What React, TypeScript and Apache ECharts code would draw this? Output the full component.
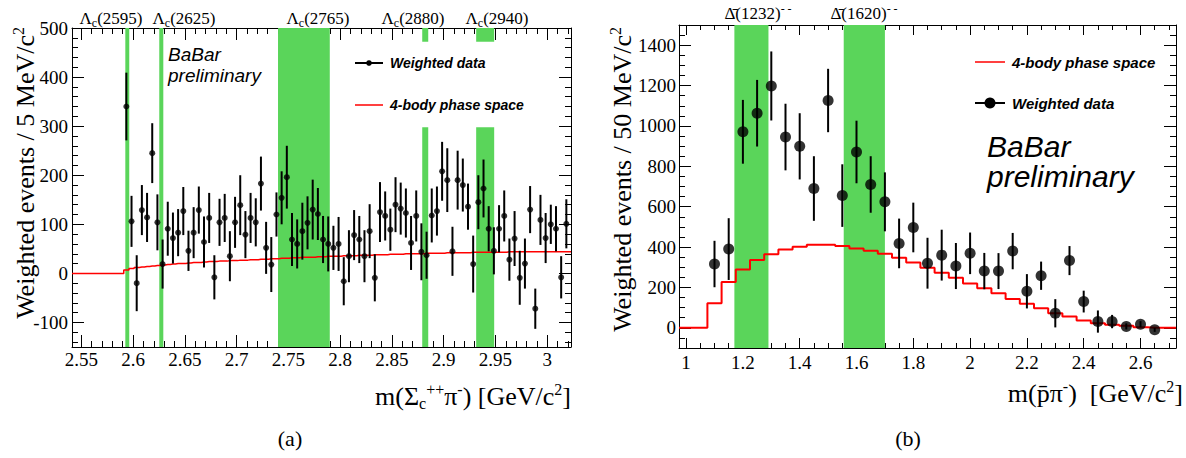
import React, { useEffect, useRef } from 'react';
import * as echarts from 'echarts';

const SERIF = '"Liberation Serif", "Times New Roman", serif';
const SANS = '"Liberation Sans", Arial, Helvetica, sans-serif';
const GREEN = '#5AD55A';
const RED = '#FF0000';

// ---------------- Panel (a): m(Sigma_c++ pi-) ----------------
const A_X_RANGE = [2.541, 3.023];
const A_Y_RANGE = [-150, 500];
const A_BIN_WIDTH = 0.005;
const A_FIRST_BIN = 2.5935;
const A_VALUES = [
  340, 106, -20, 129, 114, 245, 104, 19, 91, 72,
  83, 127, 46, 83, 129, 64, 113, -8, 104, 113,
  35, 104, 139, 79, 113, 104, 183, 52, 18, 120,
  154, 196, 69, 60, 86, 103, 130, 121, 69, 60,
  52, 60, -16, 35, 78, 69, 35, 86, -9, 125,
  117, 89, 140, 132, 123, 62, 117, 44, 37, 118,
  127, 208, 190, 45, 190, 180, 136, 19, 145, 173,
  91, 46, 91, 117, 28, 71, -9, 20, 130, -72,
  109, 72, 100, 91, -8, 101,
];
const A_ERRORS = [
  69, 52, 57, 51, 50, 61, 57, 50, 55, 52,
  48, 49, 41, 52, 48, 52, 51, 45, 48, 49,
  51, 52, 61, 48, 51, 49, 55, 53, 56, 45,
  54, 64, 54, 50, 58, 54, 61, 53, 48, 56,
  45, 55, 49, 53, 51, 48, 53, 55, 48, 61,
  50, 43, 56, 53, 50, 55, 52, 58, 48, 55,
  50, 60, 65, 50, 60, 54, 47, 58, 55, 59,
  46, 48, 48, 52, 43, 56, 55, 51, 48, 41,
  51, 51, 40, 46, 43, 50,
];
const A_PHASE_SPACE = [
  7, 10, 12, 13, 14, 15, 16, 17, 18, 19,
  20, 20, 21, 22, 22, 23, 24, 24, 25, 25,
  26, 26, 27, 27, 28, 28, 29, 29, 30, 30,
  31, 31, 32, 32, 33, 33, 33, 34, 34, 35,
  35, 35, 36, 36, 36, 37, 37, 37, 38, 38,
  38, 39, 39, 39, 40, 40, 40, 40, 41, 41,
  41, 41, 42, 42, 42, 42, 42, 43, 43, 43,
  43, 43, 43, 43, 44, 44, 44, 44, 44, 44,
  44, 44, 44, 44, 44, 44,
];
const A_X_TICKS = [2.55, 2.6, 2.65, 2.7, 2.75, 2.8, 2.85, 2.9, 2.95, 3.0];
const A_Y_TICKS = [-100, 0, 100, 200, 300, 400, 500];
const A_STATES = ['2595', '2625', '2765', '2880', '2940'];
const A_STATE_BANDS = [
  [2.5925, 2.5963],
  [2.6253, 2.6292],
  [2.74, 2.79],
  [2.8793, 2.8851],
  [2.9314, 2.9488],
];

// ---------------- Panel (b): m(pbar pi-) ----------------
const B_X_RANGE = [0.975, 2.725];
const B_Y_RANGE = [-100, 1500];
const B_BIN_WIDTH = 0.05;
const B_FIRST_BIN = 1.1;
const B_VALUES = [
  316, 390, 971, 1063, 1198, 945, 899, 690, 1126, 655,
  871, 710, 624, 418, 497, 320, 360, 306, 369, 281,
  281, 380, 181, 258, 72, 333, 130, 31, 31, 7,
  18, -10,
];
const B_ERRORS = [
  115, 153, 158, 165, 171, 165, 164, 160, 157, 155,
  155, 140, 146, 123, 123, 126, 126, 114, 103, 90,
  89, 90, 85, 70, 70, 72, 54, 55, 33, 15,
  15, 10,
];
const B_PS_FIRST_BIN = 1.0;
const B_PHASE_SPACE = [
  0, 0, 122, 227, 289, 336, 365, 388, 402, 412,
  411, 405, 393, 382, 367, 347, 323, 298, 273, 248,
  220, 196, 171, 143, 119, 97, 72, 56, 36, 23,
  15, 10, 3, 0, 0,
];
const B_X_TICKS = [1, 1.2, 1.4, 1.6, 1.8, 2, 2.2, 2.4, 2.6];
const B_Y_TICKS = [0, 200, 400, 600, 800, 1000, 1200, 1400];
const B_STATES = ['1232', '1620'];
const B_STATE_BANDS = [
  [1.17, 1.29],
  [1.555, 1.7],
];

// layout constants (legend box of panel a interrupts bands, in data units)
const A_LEGEND_GAP = [298, 472];
const A_LEGEND_FROM_X = 2.8;

function steps(from: number, to: number, step: number) {
  const out: number[] = [];
  const n = Math.round((to - from) / step);
  for (let i = 0; i <= n; i++) out.push(Math.round((from + i * step) * 1e6) / 1e6);
  return out;
}

const fmt = (v: number) => String(parseFloat(Number(v).toFixed(3)));

function axisSet(kind: 'x' | 'y', gridIndex: number, range: number[], majors: number[], minors: number[], margin: number, majorLen: number, minorLen: number) {
  const sides = kind === 'x' ? ['bottom', 'top'] : ['left', 'right'];
  const base = {
    type: 'value',
    gridIndex,
    min: range[0],
    max: range[1],
    splitLine: { show: false },
    axisPointer: { show: false },
  };
  const line = { show: true, onZero: false, lineStyle: { color: '#000', width: 1 } };
  const noLine = { show: false, onZero: false };
  const majorTick = { show: true, inside: true, length: majorLen, customValues: majors, lineStyle: { color: '#000', width: 1 } };
  const minorTick = { show: true, inside: true, length: minorLen, customValues: minors, lineStyle: { color: '#000', width: 1 } };
  return [
    {
      ...base,
      position: sides[0],
      axisLine: line,
      axisTick: majorTick,
      axisLabel: {
        show: true,
        customValues: majors,
        formatter: fmt,
        margin,
        color: '#000',
        fontFamily: SERIF,
        fontSize: 19,
        hideOverlap: false,
      },
    },
    { ...base, position: sides[0], axisLine: noLine, axisTick: minorTick, axisLabel: { show: false } },
    { ...base, position: sides[1], axisLine: line, axisTick: majorTick, axisLabel: { show: false } },
    { ...base, position: sides[1], axisLine: noLine, axisTick: minorTick, axisLabel: { show: false } },
  ];
}

const bandRender = (params: any, api: any) => {
  const lo = api.value(0);
  const hi = api.value(1);
  const ylo = api.value(2);
  const yhi = api.value(3);
  const p1 = api.coord([lo, yhi]);
  const p2 = api.coord([hi, ylo]);
  return {
    type: 'rect',
    shape: { x: p1[0], y: p1[1], width: p2[0] - p1[0], height: p2[1] - p1[1] },
    style: { fill: GREEN },
  };
};

const errRender = (width: number) => (params: any, api: any) => {
  const x = api.value(0);
  const v = api.value(1);
  const e = api.value(2);
  const p1 = api.coord([x, v + e]);
  const p2 = api.coord([x, v - e]);
  return {
    type: 'line',
    shape: { x1: p1[0], y1: p1[1], x2: p2[0], y2: p2[1] },
    style: { stroke: '#000', lineWidth: width },
  };
};

const titleRich = {
  n: { fontFamily: SERIF, fontSize: 26, lineHeight: 30, fill: '#000' },
  sp: { fontFamily: SERIF, fontSize: 16, verticalAlign: 'top', fill: '#000' },
  sb: { fontFamily: SERIF, fontSize: 16, verticalAlign: 'bottom', fill: '#000' },
};

const labelRich = {
  n: { fontFamily: SERIF, fontSize: 17, lineHeight: 21, fill: '#000' },
  s: { fontFamily: SERIF, fontSize: 12, verticalAlign: 'bottom', fill: '#000' },
  sp: { fontFamily: SERIF, fontSize: 12, verticalAlign: 'top', fill: '#000' },
};

export default function App() {
  const ref = useRef<HTMLDivElement>(null);

  useEffect(() => {
    document.body.style.margin = '0';
    if (!ref.current) return;
    const chart = echarts.init(ref.current, undefined, { renderer: 'svg' });

    const aCenters = A_VALUES.map((_, i) => A_FIRST_BIN + i * A_BIN_WIDTH);
    const bCenters = B_VALUES.map((_, i) => B_FIRST_BIN + i * B_BIN_WIDTH);
    const bPsCenters = B_PHASE_SPACE.map((_, i) => B_PS_FIRST_BIN + i * B_BIN_WIDTH);

    const aRed = [
      [A_X_RANGE[0], 0],
      [A_FIRST_BIN - A_BIN_WIDTH, 0],
      ...aCenters.map((c, i) => [c, A_PHASE_SPACE[i]]),
      [A_X_RANGE[1], A_PHASE_SPACE[A_PHASE_SPACE.length - 1]],
    ];
    const bRed = [
      [B_X_RANGE[0], 0],
      ...bPsCenters.map((c, i) => [c, B_PHASE_SPACE[i]]),
      [B_X_RANGE[1], B_PHASE_SPACE[B_PHASE_SPACE.length - 1]],
    ];

    const aBands: number[][] = [];
    A_STATE_BANDS.forEach(([lo, hi]) => {
      if (lo > A_LEGEND_FROM_X) {
        aBands.push([lo, hi, A_Y_RANGE[0], A_LEGEND_GAP[0]]);
        aBands.push([lo, hi, A_LEGEND_GAP[1], A_Y_RANGE[1]]);
      } else {
        aBands.push([lo, hi, A_Y_RANGE[0], A_Y_RANGE[1]]);
      }
    });
    const bBands = B_STATE_BANDS.map(([lo, hi]) => [lo, hi, B_Y_RANGE[0], B_Y_RANGE[1]]);

    const xAxes = [
      ...axisSet('x', 0, A_X_RANGE, A_X_TICKS, steps(2.55, 3.02, 0.01), 3, 12, 6),
      ...axisSet('x', 1, B_X_RANGE, B_X_TICKS, steps(1.0, 2.7, 0.05), 5, 10, 5),
    ];
    const yAxes = [
      ...axisSet('y', 0, A_Y_RANGE, A_Y_TICKS, steps(-140, 500, 20), 4, 12, 6),
      ...axisSet('y', 1, B_Y_RANGE, B_Y_TICKS, steps(-100, 1500, 50), 3, 12, 6),
    ];

    const aLabelX = [111, 184, 318, 413, 497];
    const bLabelX = [758, 864];

    const graphics: any[] = [
      ...A_STATES.map((s, i) => ({
        type: 'text',
        x: aLabelX[i],
        y: 18,
        style: { text: `{n|Λ}{s|c}{n|(${s})}`, rich: labelRich, align: 'center', verticalAlign: 'middle', fill: '#000' },
      })),
      ...B_STATES.map((s, i) => ({
        type: 'text',
        x: bLabelX[i],
        y: 13,
        style: { text: `{n|Δ\u0304(${s})}{sp|- -}`, rich: labelRich, align: 'center', verticalAlign: 'middle', fill: '#000' },
      })),
      // axis titles
      {
        type: 'text', x: 25, y: 27, rotation: Math.PI / 2,
        style: { text: '{n|Weighted events / 5 MeV/c}{sp|2}', rich: titleRich, align: 'right', verticalAlign: 'middle', fill: '#000' },
      },
      {
        type: 'text', x: 622, y: 27, rotation: Math.PI / 2,
        style: { text: '{n|Weighted events / 50 MeV/c}{sp|2}', rich: titleRich, align: 'right', verticalAlign: 'middle', fill: '#000' },
      },
      {
        type: 'text', x: 571, y: 396,
        style: { text: '{n|m(Σ}{sb|c}{sp|++}{n|π}{sp|-}{n|) [GeV/c}{sp|2}{n|]}', rich: titleRich, align: 'right', verticalAlign: 'middle', fill: '#000' },
      },
      {
        type: 'text', x: 1183, y: 393,
        style: { text: '{n|m(p\u0304π}{sp|-}{n|)  [GeV/c}{sp|2}{n|]}', rich: titleRich, align: 'right', verticalAlign: 'middle', fill: '#000' },
      },
      { type: 'text', x: 290, y: 438, style: { text: '(a)', font: `22px ${SERIF}`, fill: '#000', align: 'center', verticalAlign: 'middle' } },
      { type: 'text', x: 908, y: 438, style: { text: '(b)', font: `22px ${SERIF}`, fill: '#000', align: 'center', verticalAlign: 'middle' } },
      // BaBar preliminary (a)
      { type: 'text', x: 168, y: 44, style: { text: 'BaBar\npreliminary', font: `italic 19px ${SANS}`, lineHeight: 21, fill: '#000', align: 'left', verticalAlign: 'top' } },
      // BaBar preliminary (b)
      { type: 'text', x: 987, y: 131, style: { text: 'BaBar\npreliminary', font: `italic 30px ${SANS}`, lineHeight: 30, fill: '#000', align: 'left', verticalAlign: 'top' } },
      // legend (a)
      { type: 'line', shape: { x1: 355, y1: 63, x2: 383, y2: 63 }, style: { stroke: '#000', lineWidth: 2 } },
      { type: 'circle', shape: { cx: 369, cy: 63, r: 2.8 }, style: { fill: '#000' } },
      { type: 'text', x: 390, y: 63, style: { text: 'Weighted data', font: `italic bold 14px ${SANS}`, fill: '#000', align: 'left', verticalAlign: 'middle' } },
      { type: 'line', shape: { x1: 355, y1: 105, x2: 383, y2: 105 }, style: { stroke: RED, lineWidth: 1.5 } },
      { type: 'text', x: 390, y: 105, style: { text: '4-body phase space', font: `italic bold 14px ${SANS}`, fill: '#000', align: 'left', verticalAlign: 'middle' } },
      // legend (b)
      { type: 'line', shape: { x1: 975, y1: 62, x2: 1005, y2: 62 }, style: { stroke: RED, lineWidth: 1.5 } },
      { type: 'text', x: 1012, y: 62, style: { text: '4-body phase space', font: `italic bold 15px ${SANS}`, fill: '#000', align: 'left', verticalAlign: 'middle' } },
      { type: 'line', shape: { x1: 975, y1: 103, x2: 1005, y2: 103 }, style: { stroke: '#000', lineWidth: 2 } },
      { type: 'circle', shape: { cx: 990, cy: 103, r: 5.5 }, style: { fill: '#000' } },
      { type: 'text', x: 1012, y: 103, style: { text: 'Weighted data', font: `italic bold 15px ${SANS}`, fill: '#000', align: 'left', verticalAlign: 'middle' } },
    ];

    chart.setOption({
      animation: false,
      backgroundColor: '#fff',
      grid: [
        { left: 72, top: 28, width: 499, height: 319 },
        { left: 679, top: 25, width: 497, height: 323 },
      ],
      xAxis: xAxes,
      yAxis: yAxes,
      series: [
        // panel a
        { type: 'custom', xAxisIndex: 0, yAxisIndex: 0, renderItem: bandRender, data: aBands, z: 1, clip: true, silent: true },
        { type: 'line', xAxisIndex: 0, yAxisIndex: 0, data: aRed, step: 'middle', symbol: 'none', lineStyle: { color: RED, width: 1.5 }, z: 2, silent: true },
        { type: 'custom', xAxisIndex: 0, yAxisIndex: 0, renderItem: errRender(2), data: aCenters.map((c, i) => [c, A_VALUES[i], A_ERRORS[i]]), z: 3, clip: true, silent: true },
        { type: 'scatter', xAxisIndex: 0, yAxisIndex: 0, data: aCenters.map((c, i) => [c, A_VALUES[i]]), symbol: 'circle', symbolSize: 6, itemStyle: { color: '#000' }, z: 4, silent: true },
        // panel b
        { type: 'custom', xAxisIndex: 4, yAxisIndex: 4, renderItem: bandRender, data: bBands, z: 1, clip: true, silent: true },
        { type: 'line', xAxisIndex: 4, yAxisIndex: 4, data: bRed, step: 'middle', symbol: 'none', lineStyle: { color: RED, width: 2 }, z: 2, silent: true },
        { type: 'custom', xAxisIndex: 4, yAxisIndex: 4, renderItem: errRender(2), data: bCenters.map((c, i) => [c, B_VALUES[i], B_ERRORS[i]]), z: 3, clip: true, silent: true },
        { type: 'scatter', xAxisIndex: 4, yAxisIndex: 4, data: bCenters.map((c, i) => [c, B_VALUES[i]]), symbol: 'circle', symbolSize: 11, itemStyle: { color: '#000' }, z: 4, silent: true },
      ],
      graphic: graphics,
    });

    return () => chart.dispose();
  }, []);

  return <div ref={ref} style={{ width: 1186, height: 458 }} />;
}
